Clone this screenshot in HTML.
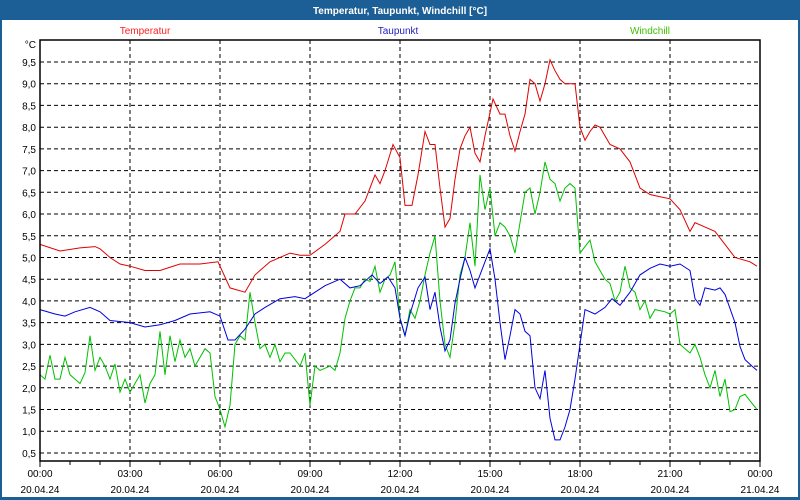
<!DOCTYPE html>
<html><head><meta charset="utf-8"><style>
body{margin:0;width:800px;height:500px;overflow:hidden;background:#fff}
svg{display:block}
text{font-family:"Liberation Sans",sans-serif;font-size:10px}
</style></head><body>
<svg id="s" width="800" height="500" xmlns="http://www.w3.org/2000/svg">
<rect x="0" y="0" width="800" height="500" fill="#1c5f96"/>
<rect x="2" y="20" width="796" height="477" fill="#fff"/>
<text x="400" y="14" fill="#fff" font-weight="bold" text-anchor="middle" font-size="11">Temperatur, Taupunkt, Windchill [°C]</text>
<text x="145" y="34" fill="#ff2020" text-anchor="middle">Temperatur</text>
<text x="398" y="34" fill="#2020c0" text-anchor="middle">Taupunkt</text>
<text x="650" y="34" fill="#40c000" text-anchor="middle">Windchill</text>
<g id="g"></g>
</svg>
<script>
const g=document.getElementById('g');let h='';
const Y=v=>62+(9.5-v)*43.44;
for(let i=1;i<=19;i++){const v=i*0.5;const y=Y(v).toFixed(1);
 if(v<=9.5)h+=`<line x1="40" x2="760" y1="${y}" y2="${y}" stroke="#000" stroke-dasharray="4,3"/>`;
 h+=`<text x="36" y="${+y+4}" text-anchor="end">${v.toFixed(1).replace('.',',')}</text>`;}
h+=`<text x="36" y="48" text-anchor="end">°C</text>`;
const dates=['20.04.24','20.04.24','20.04.24','20.04.24','20.04.24','20.04.24','20.04.24','20.04.24','21.04.24'];
for(let i=0;i<=8;i++){const x=40+i*90;
 if(i>0&&i<8)h+=`<line x1="${x}" x2="${x}" y1="40" y2="461" stroke="#000" stroke-dasharray="4,3"/>`;
 h+=`<text x="${x}" y="477" text-anchor="middle">${String((i*3)%24).padStart(2,'0')}:00</text>`;
 h+=`<text x="${x}" y="493" text-anchor="middle">${dates[i]}</text>`;}
for(let i=0;i<=24;i++){const x=40+i*30;h+=`<line x1="${x}" x2="${x}" y1="461" y2="${i%3?465:467}" stroke="#000"/>`;}
function P(a,c){let s='';for(let i=0;i<a.length;i+=2)s+=a[i]+','+Y(a[i+1]).toFixed(1)+' ';return `<polyline points="${s}" fill="none" stroke="${c}" stroke-width="1"/>`;}
const red=[40,5.3,60,5.15,80,5.22,95,5.25,100,5.2,110,5.0,120,4.85,130,4.8,145,4.7,160,4.7,180,4.85,200,4.85,218,4.9,230,4.3,245,4.2,255,4.6,270,4.9,290,5.1,300,5.05,310,5.05,325,5.3,340,5.6,345,6.0,355,6.0,365,6.3,375,6.9,380,6.7,385,7.0,393,7.6,400,7.3,405,6.2,412,6.2,418,6.9,425,7.9,430,7.6,435,7.6,440,6.6,445,5.7,450,5.9,455,6.8,460,7.5,465,7.8,470,8.0,475,7.4,480,7.2,485,7.8,493,8.65,500,8.3,505,8.3,510,7.8,515,7.45,520,7.9,525,8.3,530,9.1,535,9.0,540,8.6,545,9.0,550,9.55,555,9.3,560,9.1,565,9.0,575,9.0,580,8.0,585,7.7,590,7.9,595,8.05,600,8.0,610,7.6,620,7.5,630,7.2,640,6.6,650,6.45,660,6.4,670,6.35,680,6.1,690,5.6,695,5.8,705,5.7,715,5.6,725,5.3,735,5.0,750,4.9,757,4.8];
const blue=[40,3.8,55,3.7,65,3.65,75,3.75,90,3.85,100,3.75,110,3.55,130,3.5,145,3.4,160,3.45,175,3.55,190,3.7,210,3.75,220,3.65,228,3.1,235,3.1,245,3.35,255,3.7,265,3.85,280,4.05,295,4.1,305,4.05,315,4.2,325,4.35,340,4.5,350,4.3,360,4.35,372,4.6,380,4.4,388,4.55,395,4.3,400,3.6,405,3.2,410,3.7,418,4.3,425,4.55,430,3.8,435,4.2,440,3.4,445,2.85,450,3.1,455,3.95,460,4.5,465,5.0,470,4.7,475,4.3,480,4.6,485,4.9,490,5.2,495,4.5,500,3.5,505,2.65,510,3.2,515,3.8,520,3.7,525,3.3,530,3.2,535,2.0,540,1.75,545,2.4,550,1.3,555,0.8,560,0.8,565,1.1,570,1.5,575,2.2,580,3.0,585,3.8,595,3.7,605,3.85,612,4.05,620,3.9,630,4.2,640,4.6,650,4.75,660,4.85,670,4.8,680,4.85,690,4.7,695,4.05,700,3.9,705,4.3,715,4.25,720,4.3,725,4.15,735,3.5,740,2.95,745,2.65,752,2.5,757,2.4];
const green=[40,2.3,45,2.2,50,2.75,55,2.2,60,2.2,65,2.7,70,2.3,75,2.2,80,2.1,85,2.35,90,3.2,95,2.4,100,2.7,105,2.5,110,2.2,115,2.55,120,1.9,125,2.2,130,1.9,135,2.1,140,2.3,145,1.65,150,2.1,155,2.3,160,3.3,165,2.3,170,3.2,175,2.6,180,3.1,185,2.7,190,2.9,195,2.5,200,2.7,205,2.9,210,2.8,215,1.8,220,1.5,225,1.1,230,1.6,235,3.0,240,3.2,245,3.1,250,4.2,255,3.5,260,2.9,265,3.0,270,2.7,275,3.0,280,2.6,285,2.8,290,2.8,300,2.5,305,2.8,310,1.6,315,2.5,320,2.4,330,2.5,335,2.4,340,2.8,345,3.6,350,4.0,355,4.3,360,4.3,365,4.5,370,4.45,375,4.8,380,4.2,385,4.5,390,4.6,395,4.9,400,3.6,405,3.2,410,3.8,415,3.6,420,4.0,425,4.6,430,5.1,435,5.5,440,4.0,445,3.0,450,2.7,455,3.5,460,4.6,465,5.0,470,5.8,475,4.8,480,6.9,485,6.1,490,6.6,495,5.5,500,5.8,505,5.7,510,5.5,515,5.1,520,5.8,525,6.5,530,6.6,535,6.0,540,6.5,545,7.2,550,6.8,555,6.7,560,6.3,565,6.6,570,6.7,575,6.6,580,5.1,590,5.4,595,4.9,600,4.7,605,4.5,610,4.4,615,4.0,620,4.2,625,4.8,630,4.3,635,4.2,640,3.8,645,4.0,650,3.6,655,3.8,665,3.75,670,3.7,675,3.8,680,3.0,685,2.9,690,2.8,695,3.0,700,2.7,705,2.3,710,2.0,715,2.4,720,1.8,725,2.2,730,1.45,735,1.5,740,1.8,745,1.85,750,1.7,757,1.5];
h+=P(green,'#00c000')+P(blue,'#0000e0')+P(red,'#e00000');
h+=`<rect x="40" y="40" width="720" height="421" fill="none" stroke="#000" stroke-width="1.5"/>`;
g.innerHTML=h;
</script>
</body></html>
